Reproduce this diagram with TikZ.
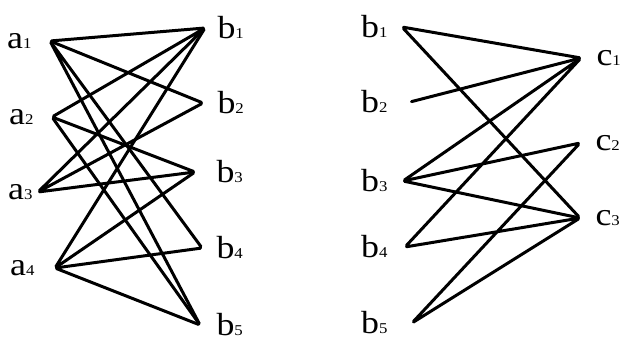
\documentclass[tikz,border=0pt]{standalone}
\usepackage{fontspec}
\setmainfont{Liberation Serif}
\newfontfamily\lblfont[FakeStretch=1.12]{Liberation Serif}
\newcommand\lsub[1]{{\fontsize{15}{15}\selectfont #1}}
\usetikzlibrary{positioning}

\begin{document}
\begin{tikzpicture}[
x=1pt, y=-1pt,
every node/.style={inner sep=0, minimum size=0},
every label/.style={inner sep=0.5pt, font=\lblfont\fontsize{32}{34}\selectfont},
every path/.style={line width=3pt, line cap=round, line join=miter}
]
\useasboundingbox (0,0) rectangle (620,342);
% left graph
\node[label={[label distance=15pt]left:a\lsub{1}}] (a1) at (50,41) {};
\node[label={[label distance=15pt]left:a\lsub{2}}] (a2) at (52,117) {};
\node[label={[label distance=2pt]left:a\lsub{3}}] (a3) at (38,192) {};
\node[label={[label distance=17pt]left:a\lsub{4}}] (a4) at (55,268) {};
\node[label={[label distance=9pt]right:b\lsub{1}}] (b1) at (205,28) {};
\node[label={[label distance=11pt]right:b\lsub{2}}] (b2) at (203,103) {};
\node[label={[label distance=18pt]right:b\lsub{3}}] (b3) at (195,172) {};
\node[label={[label distance=11pt]right:b\lsub{4}}] (b4) at (202,248) {};
\node[label={[label distance=13pt]right:b\lsub{5}}] (b5) at (200,325) {};
\draw (b1) -- (a1) -- (b2) -- (a3) -- (b1) -- (a2) -- (b3) -- (a3);
\draw (a1) -- (b4) -- (a4) -- (b5) -- (a1);
\draw (a2) -- (b5);
\draw (b1) -- (a4) -- (b3);
% right graph
\node[label={[label distance=11pt]left:b\lsub{1}}] (rb1) at (402,27) {};
\node[label={[label distance=19pt]left:b\lsub{2}}] (rb2) at (410,102) {};
\node[label={[label distance=12pt]left:b\lsub{3}}] (rb3) at (403,181) {};
\node[label={[label distance=14pt]left:b\lsub{4}}] (rb4) at (405,247) {};
\node[label={[label distance=21pt]left:b\lsub{5}}] (rb5) at (412,323) {};
\node[label={[label distance=12pt]right:c\lsub{1}}] (c1) at (581,58) {};
\node[label={[label distance=12pt]right:c\lsub{2}}] (c2) at (580,143) {};
\node[label={[label distance=12pt]right:c\lsub{3}}] (c3) at (580,218) {};
\draw (c3) -- (rb1) -- (c1) -- (rb2);
\draw (c1) -- (rb3) -- (c2) -- (rb5) -- (c3) -- (rb4) -- (c1);
\draw (rb3) -- (c3);
\end{tikzpicture}
\end{document}
